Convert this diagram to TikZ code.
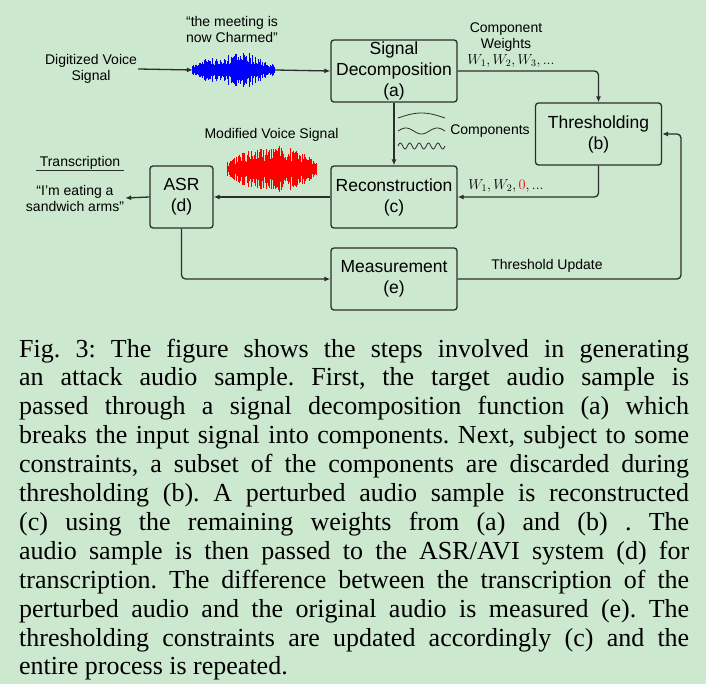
\documentclass[tikz,border=0pt]{standalone}
\usepackage{fontspec}
\setmainfont{Liberation Serif}
\setsansfont{Liberation Sans}
\usepackage{tikz}
\usetikzlibrary{arrows.meta, positioning, calc}
\definecolor{PageGreen}{RGB}{204, 232, 207}
\definecolor{LineGray}{RGB}{45, 45, 45}

\begin{document}
\begin{tikzpicture}[x=1pt, y=-1pt, font=\sffamily,
  box/.style={draw=LineGray, line width=1.3pt, rounded corners=3pt, minimum width=126pt, minimum height=62pt, inner sep=0pt, align=center, font=\sffamily\fontsize{17.5}{21}\selectfont},
  lbl/.style={inner sep=1pt, align=center, font=\sffamily\fontsize{14}{16}\selectfont},
  link/.style={draw=LineGray, line width=1.3pt, rounded corners=4pt, -{Latex[length=6pt, width=5pt]}},
  thinwave/.style={draw=LineGray, line width=0.8pt}]
\fill[PageGreen] (0,0) rectangle (706,684);
\useasboundingbox (0,0) rectangle (706,684);

\node[box] (dec) at (394,71) {Signal\\Decomposition\\(a)};
\node[box] (thr) at (598.5,134) {Thresholding\\(b)};
\node[box] (rec) at (394,197) {Reconstruction\\(c)};
\node[box, minimum width=63pt] (asr) at (181.5,197) {ASR\\(d)};
\node[box] (mea) at (394,279) {Measurement\\(e)};

\node[minimum width=82pt, minimum height=44pt, inner sep=0pt] (bwave) at (234,70) {};
\node[minimum width=89pt, minimum height=48pt, inner sep=0pt] (rwave) at (272.5,169) {};
\pgfmathsetseed{11}
\foreach \i in {0,...,109} {
  \pgfmathsetmacro{\t}{\i/109}
  \pgfmathsetmacro{\h}{(5+16*sin(180*\t)*(0.8+0.2*cos(540*\t)))*(0.35+0.65*rnd)}
  \draw[blue, line width=0.75pt] ($(bwave.west)+(\i*0.75,-\h)$) -- ($(bwave.west)+(\i*0.75,\h)$);
}
\foreach \i in {0,...,118} {
  \pgfmathsetmacro{\t}{\i/118}
  \pgfmathsetmacro{\h}{(9+15*sin(180*\t))*(0.35+0.65*rnd)}
  \draw[red, line width=0.75pt] ($(rwave.west)+(\i*0.75,-\h)$) -- ($(rwave.west)+(\i*0.75,\h)$);
}

\draw[thinwave] plot[domain=0:1, samples=30, smooth] ({398+47*\x}, {118-5*sin(180*\x)});
\draw[thinwave] plot[domain=0:1, samples=40, smooth] ({398+47*\x}, {131-3*sin(540*\x)});
\draw[thinwave] plot[domain=0:1, samples=80, smooth] ({398+47*\x}, {146-3*sin(1800*\x)});

\node[lbl] (dvs) at (91,69) {Digitized Voice\\Signal};
\node[lbl] (quote) at (232,29) {“the meeting is\\now Charmed”};
\node[lbl] (cw) at (506,37) {Component\\Weights};
\node[lbl] (wts) at (511,61) {$W_1, W_2, W_3, ...$};
\node[lbl] (cmp) at (490,131) {Components};
\node[lbl] (mvs) at (271.5,135) {Modified Voice Signal};
\node[lbl] (wzero) at (506,186) {$W_1, W_2, {\color{red}0}, ...$};
\node[lbl] (tup) at (547,266) {Threshold Update};
\node[lbl] (trn) at (80,163) {Transcription};
\node[lbl] (out) at (75,198) {“I\symbol{39}m eating a\\sandwich arms”};
\draw[LineGray, line width=0.9pt] ($(trn.south west)+(-3,0)$) -- ($(trn.south east)+(3,0)$);

\coordinate (loop) at (681,134);
\draw[link] (dvs.east) -- (bwave.west);
\draw[link] (bwave.east) -- (dec.west);
\draw[link] (dec.east) -| (thr.north);
\draw[link] (dec.south) -- (rec.north);
\draw[link] (thr.south) |- (rec.east);
\draw[link] (rec.west) -- (asr.east);
\draw[link] (asr.west) -- (out.east);
\draw[link] (asr.south) |- (mea.west);
\draw[link] (mea.east) -| (loop) -- (thr.east);

\node[anchor=base west, inner sep=0pt, text width=670pt, align=justify,
  font=\rmfamily\fontsize{26}{28.9}\selectfont] (caption) at (19,357) {\frenchspacing
Fig.~3: The figure shows the steps involved in generating\linebreak
an attack audio sample. First, the target audio sample is\linebreak
passed through a signal decomposition function (a) which\linebreak
breaks the input signal into components. Next, subject to some\linebreak
constraints, a subset of the components are discarded during\linebreak
thresholding (b). A perturbed audio sample is reconstructed\linebreak
(c) using the remaining weights from (a) and (b) . The\linebreak
audio sample is then passed to the ASR/AVI system (d) for\linebreak
transcription. The difference between the transcription of the\linebreak
perturbed audio and the original audio is measured (e). The\linebreak
thresholding constraints are updated accordingly (c) and the\linebreak
entire process is repeated.};
\end{tikzpicture}
\end{document}
